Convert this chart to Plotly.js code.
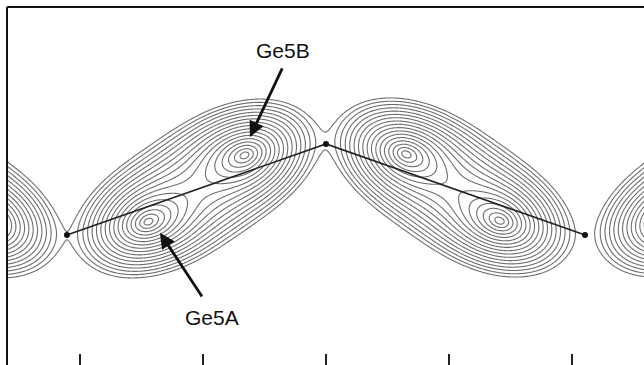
<!DOCTYPE html>
<html>
<head>
<meta charset="utf-8">
<script src="https://cdn.plot.ly/plotly-3.0.1.min.js"></script>
<style>html,body{margin:0;padding:0;background:#fff;overflow:hidden}#chart{width:644px;height:365px}</style>
</head>
<body>
<div id="chart"></div>
<script>
// Density lobes: each lobe holds a split pair of sites (A, B)
const lobeAX = [-0.764, 0.553, 3.415, 4.797];
const lobeAY = [1.163, 1.163, 1.171, 1.171];
const lobeBX = [-1.553, 1.341, 2.650, 5.561];
const lobeBY = [1.707, 1.707, 1.715, 1.715];
const lobeTilt = [-22, 22, -22, 22];
const lobeAlong = [0.100, 0.100, 0.100, 0.100];
const lobeAcross = [0.068, 0.068, 0.068, 0.068];
const lobeMerge = 4.5;
// Connecting path (Ge sites)
const pathX = [-0.106, 2.0, 4.106];
const pathY = [1.057, 1.797, 1.057];
// Bottom ticks
const tickVals = [0, 1, 2, 3, 4];
const levelStep = 0.36;

function aniso(x, y, cx, cy, th, al, ac) {
  const dx = x - cx, dy = y - cy;
  const dl = dx * Math.cos(th) + dy * Math.sin(th);
  const dc = -dx * Math.sin(th) + dy * Math.cos(th);
  return Math.sqrt((dl / al) ** 2 + (dc / ac) ** 2);
}
function logDensity(x, y) {
  let s = 0;
  for (let j = 0; j < lobeAX.length; j++) {
    const th = lobeTilt[j] * Math.PI / 180;
    const rA = aniso(x, y, lobeAX[j], lobeAY[j], th, lobeAlong[j], lobeAcross[j]);
    const rB = aniso(x, y, lobeBX[j], lobeBY[j], th, lobeAlong[j], lobeAcross[j]);
    const T = lobeMerge;
    const m = Math.min(rA, rB);
    const v = m - T * Math.log(Math.exp(-(rA - m) / T) + Math.exp(-(rB - m) / T));
    s += Math.exp(-v);
  }
  return Math.log(s);
}

const xs = [], ys = [];
for (let x = -0.62; x <= 4.62; x += 0.008) xs.push(+x.toFixed(4));
for (let y = -0.02; y <= 2.94; y += 0.008) ys.push(+y.toFixed(4));
const z = ys.map(y => xs.map(x => logDensity(x, y)));

// outermost contour just below the saddle value between neighbouring lobes
let saddle = -Infinity;
for (let y = 0.8; y < 2.4; y += 0.002) saddle = Math.max(saddle, logDensity(pathX[1], y));
const levelStart = saddle - 0.07;
let zmax = -Infinity;
z.forEach(r => r.forEach(v => { if (v > zmax) zmax = v; }));

const traces = [
  {type: 'contour', x: xs, y: ys, z: z, showscale: false, hoverinfo: 'skip',
   contours: {coloring: 'none', start: levelStart, end: zmax - 0.05, size: levelStep},
   line: {color: '#6e6e6e', width: 1.1, smoothing: 1}},
  {type: 'scatter', mode: 'lines+markers', x: pathX, y: pathY,
   line: {color: '#222', width: 1.6}, marker: {color: '#111', size: 6}, hoverinfo: 'skip'}
];

const font = {family: 'Liberation Sans, Arial, sans-serif', size: 21, color: '#111'};
const layout = {
  width: 644, height: 365,
  margin: {l: 7, r: 0, t: 7, b: 0},
  paper_bgcolor: '#fff', plot_bgcolor: '#fff',
  showlegend: false,
  xaxis: {range: [-0.5935, 4.5854], tickvals: tickVals, ticks: 'inside', ticklen: 11, tickwidth: 1.5,
          tickcolor: '#222', showticklabels: false, showgrid: false, zeroline: false, showline: false},
  yaxis: {range: [0, 2.9106], showticklabels: false, ticks: '', showgrid: false, zeroline: false, showline: false},
  shapes: [
    {type: 'line', xref: 'paper', yref: 'paper', x0: 0, x1: 1.02, y0: 1, y1: 1, line: {color: '#111', width: 2}},
    {type: 'line', xref: 'paper', yref: 'paper', x0: 0, x1: 0, y0: -0.02, y1: 1, line: {color: '#111', width: 2}}
  ],
  annotations: [
    {x: 1.650, y: 2.56, xref: 'x', yref: 'y', text: 'Ge5B', showarrow: false, font: font},
    {x: 1.073, y: 0.385, xref: 'x', yref: 'y', text: 'Ge5A', showarrow: false, font: font},
    {x: 1.382, y: 1.854, xref: 'x', yref: 'y', ax: 1.650, ay: 2.423, axref: 'x', ayref: 'y', text: '',
     showarrow: true, arrowhead: 2, arrowsize: 1.1, arrowwidth: 2.8, arrowcolor: '#111', standoff: 0},
    {x: 0.650, y: 1.075, xref: 'x', yref: 'y', ax: 1.0, ay: 0.545, axref: 'x', ayref: 'y', text: '',
     showarrow: true, arrowhead: 2, arrowsize: 1.1, arrowwidth: 2.8, arrowcolor: '#111', standoff: 0}
  ]
};
Plotly.newPlot('chart', traces, layout, {staticPlot: true, displayModeBar: false});
</script>
</body>
</html>
